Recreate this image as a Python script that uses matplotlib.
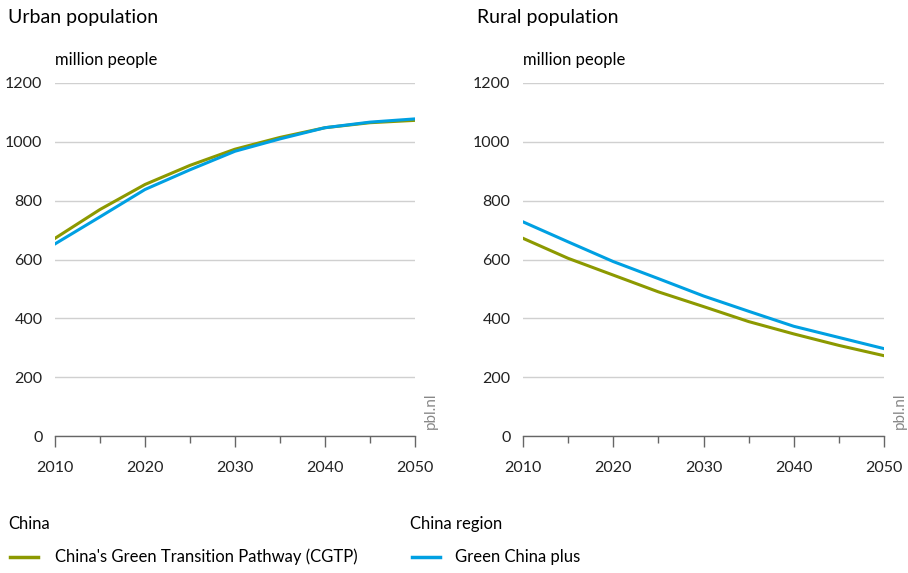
import matplotlib.pyplot as plt
from matplotlib.lines import Line2D
from matplotlib.ticker import MultipleLocator

plt.rcParams['font.family'] = ['Lato', 'DejaVu Sans']

years = [2010, 2015, 2020, 2025, 2030, 2035, 2040, 2045, 2050]
urban_cgtp = [672, 770, 855, 920, 975, 1015, 1048, 1065, 1073]
urban_gcp = [653, 745, 838, 905, 968, 1010, 1048, 1067, 1078]
rural_cgtp = [672, 604, 547, 490, 440, 389, 347, 308, 273]
rural_gcp = [728, 660, 593, 535, 476, 424, 373, 335, 297]

olive = "#8c9900"
blue = "#00a0e2"
grid_col = "#d0d0d0"
axis_col = "#666666"

fig = plt.figure(figsize=(9.08, 5.73), dpi=100)

def setup(ax, title, xfig):
    ax.set_xlim(2010, 2050)
    ax.set_ylim(0, 1200)
    ax.set_yticks(range(0, 1201, 200))
    ax.set_xticks(range(2010, 2051, 10))
    ax.xaxis.set_minor_locator(MultipleLocator(5))
    for s in ["left", "right", "top"]:
        ax.spines[s].set_visible(False)
    ax.spines["bottom"].set_color(axis_col)
    ax.spines["bottom"].set_linewidth(1)
    ax.grid(axis="y", color=grid_col, linewidth=1)
    ax.set_axisbelow(True)
    ax.tick_params(axis="y", length=0, pad=9, labelsize=11.5, colors="#222222")
    ax.tick_params(axis="x", which="major", length=8, width=1, color=axis_col,
                   pad=10, labelsize=11.5, labelcolor="#222222")
    ax.tick_params(axis="x", which="minor", length=5, width=1, color=axis_col)
    fig.text(xfig, 1 - 17 / 573, title, fontsize=14, va="center", ha="left")
    ax.text(0, 1.065, "million people", transform=ax.transAxes, fontsize=12,
            va="center", ha="left")
    ax.text(1.045, 0.02, "pbl.nl", transform=ax.transAxes, fontsize=11,
            rotation=90, color="#888888", va="bottom", ha="center")

ax1 = fig.add_axes([55 / 908, 1 - 436 / 573, 360 / 908, 353 / 573])
ax2 = fig.add_axes([523 / 908, 1 - 436 / 573, 361 / 908, 353 / 573])

ax1.plot(years, urban_cgtp, color=olive, lw=2.2)
ax1.plot(years, urban_gcp, color=blue, lw=2.2)
ax2.plot(years, rural_cgtp, color=olive, lw=2.2)
ax2.plot(years, rural_gcp, color=blue, lw=2.2)

setup(ax1, "Urban population", 8 / 908)
setup(ax2, "Rural population", 477 / 908)

# legend
fig.text(8 / 908, 1 - 524 / 573, "China", fontsize=12, va="center")
fig.text(410 / 908, 1 - 524 / 573, "China region", fontsize=12, va="center")
fig.add_artist(Line2D([10 / 908, 38 / 908], [1 - 557 / 573] * 2, color=olive, lw=2.5))
fig.add_artist(Line2D([412 / 908, 440 / 908], [1 - 557 / 573] * 2, color=blue, lw=2.5))
fig.text(55 / 908, 1 - 557 / 573, "China's Green Transition Pathway (CGTP)",
         fontsize=12, va="center")
fig.text(455 / 908, 1 - 557 / 573, "Green China plus", fontsize=12, va="center")

fig.savefig("out.png", dpi=100)
